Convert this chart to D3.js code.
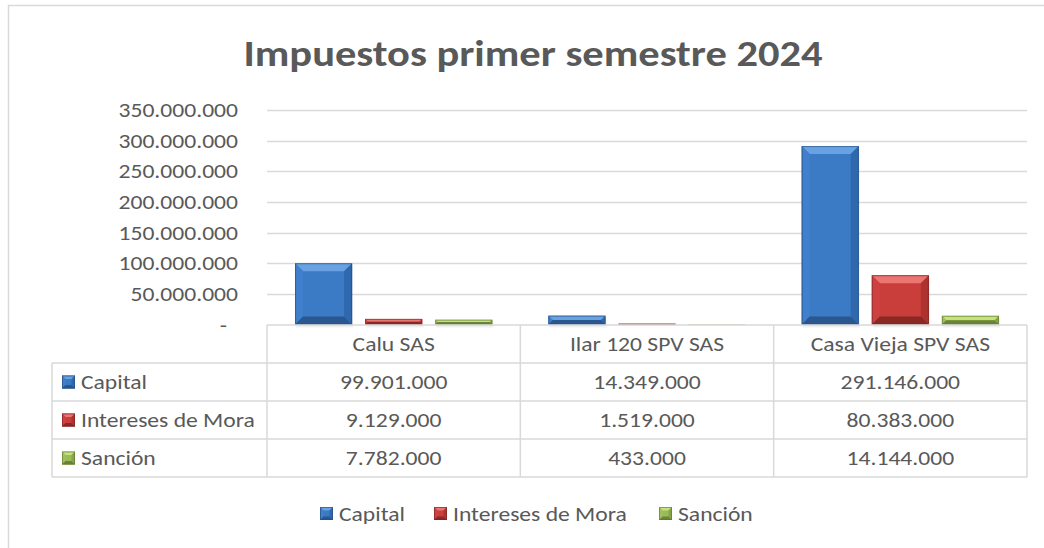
<!DOCTYPE html>
<html>
<head>
<meta charset="utf-8">
<script src="https://cdn.jsdelivr.net/npm/d3@7"></script>
<style>
  body { margin: 0; background: #fff; }
  svg text { font-family: Calibri, Carlito, Lato, sans-serif; fill: #595959; }
</style>
</head>
<body>
<script>
// data
const categories = ["Calu SAS", "Ilar 120 SPV SAS", "Casa Vieja SPV SAS"];
const seriesNames = ["Capital", "Intereses de Mora", "Sanción"];
const capital = [99901000, 14349000, 291146000];
const intereses = [9129000, 1519000, 80383000];
const sancion = [7782000, 433000, 14144000];
const yTicks = [0, 50000000, 100000000, 150000000, 200000000, 250000000, 300000000, 350000000];

const seriesValues = [capital, intereses, sancion];

// colours for the bevel look
const palette = [
  { main: "#3b7ac5", light: "#68a2e2", side: "#3f7fcb", dark: "#3068ad", bottom: "#2a5790", edge: "#24497a" },
  { main: "#c93d3a", light: "#ec7471", side: "#cd4240", dark: "#ad3331", bottom: "#8a2826", edge: "#7a2220" },
  { main: "#9bbb59", light: "#c6e27f", side: "#9fc05d", dark: "#86a44a", bottom: "#6a8536", edge: "#5c752e" }
];

const W = 1044, H = 548;
const plot = { left: 267, right: 1027, top: 110, bottom: 324.5 };
const SX = 1.18; // the original text is a bit wider than Lato

const locale = d3.formatLocale({ decimal: ",", thousands: ".", grouping: [3], currency: ["$", ""] });
const fmt = locale.format(",.0f");

const svg = d3.select("body").append("svg")
  .attr("width", W)
  .attr("height", H);

// text helper, stretched a little horizontally
function label(g, x, y, str, size, anchor, weight) {
  return g.append("text")
    .attr("transform", "translate(" + x + "," + y + ") scale(" + SX + ",1)")
    .attr("dy", "0.35em")
    .attr("text-anchor", anchor || "start")
    .style("font-size", size + "px")
    .style("font-weight", weight || "300")
    .text(str);
}

// chart frame (right and bottom edges fall outside the picture)
svg.append("rect")
  .attr("x", 8.5).attr("y", 5.5)
  .attr("width", W + 20).attr("height", H + 20)
  .attr("fill", "none")
  .attr("stroke", "#d9d9d9")
  .attr("stroke-width", 1.5);

// title
label(svg, 533, 53, "Impuestos primer semestre 2024", 36, "middle", "bold");

// scales
const x0 = d3.scaleBand().domain(categories).range([plot.left, plot.right]);
const x1 = d3.scaleBand().domain(seriesNames).range([0, x0.bandwidth()])
  .paddingInner(0.186).paddingOuter(0.4);
const y = d3.scaleLinear().domain([0, 350000000]).range([plot.bottom, plot.top]);

// gridlines
svg.append("g")
  .selectAll("line")
  .data(yTicks.filter(d => d > 0))
  .join("line")
  .attr("x1", plot.left).attr("x2", plot.right)
  .attr("y1", d => Math.round(y(d)) + 0.5).attr("y2", d => Math.round(y(d)) + 0.5)
  .attr("stroke", "#d9d9d9")
  .attr("stroke-width", 1.5);

// y axis labels
const yAxis = svg.append("g");
yTicks.forEach(d => {
  label(yAxis, d === 0 ? 227 : 238, y(d), d === 0 ? "-" : fmt(d), 20, "end");
});

// bevelled box, like the excel shape effect
function bevel(g, x, yy, w, h, c, size) {
  const b = Math.max(0, Math.min(size, h / 2, w / 2));
  g.append("rect").attr("x", x).attr("y", yy).attr("width", w).attr("height", h).attr("fill", c.main);
  const poly = (pts, fill) => g.append("polygon").attr("points", pts.map(p => p.join(",")).join(" ")).attr("fill", fill);
  poly([[x, yy], [x + w, yy], [x + w - b, yy + b], [x + b, yy + b]], c.light);
  poly([[x, yy], [x + b, yy + b], [x + b, yy + h - b], [x, yy + h]], c.side);
  poly([[x + w, yy], [x + w, yy + h], [x + w - b, yy + h - b], [x + w - b, yy + b]], c.dark);
  poly([[x, yy + h], [x + b, yy + h - b], [x + w - b, yy + h - b], [x + w, yy + h]], c.bottom);
  g.append("rect").attr("x", x + 0.5).attr("y", yy + 0.5).attr("width", Math.max(0, w - 1)).attr("height", Math.max(0, h - 1))
    .attr("fill", "none").attr("stroke", c.edge).attr("stroke-width", 1).attr("stroke-opacity", 0.6);
}

// bars
const bars = svg.append("g");
categories.forEach((cat, ci) => {
  seriesNames.forEach((s, si) => {
    const v = seriesValues[si][ci];
    const bx = x0(cat) + x1(s);
    const by = y(v);
    const bh = y(0) - y(v);
    const g = bars.append("g");
    if (bh > 2) {
      // soft shadow
      g.append("rect")
        .attr("x", bx + 1).attr("y", by + 2)
        .attr("width", x1.bandwidth()).attr("height", bh + 1)
        .attr("fill", "#000").attr("opacity", 0.06);
    }
    bevel(g, bx, by, x1.bandwidth(), bh, palette[si], 8);
  });
});

// data table
const rowKeys = ["header"].concat(seriesNames);
const rows = d3.scaleBand().domain(rowKeys).range([325, 477]);
const tableLeft = 52;
const tbl = svg.append("g");
const lineCol = "#d9d9d9";

// horizontal lines
rowKeys.concat(["end"]).forEach((k, i) => {
  const yy = i < rowKeys.length ? rows(k) : rows.range()[1];
  tbl.append("line")
    .attr("x1", i === 0 ? plot.left : tableLeft).attr("x2", plot.right)
    .attr("y1", yy).attr("y2", yy)
    .attr("stroke", lineCol).attr("stroke-width", 1.5);
});
// vertical lines
tbl.append("line")
  .attr("x1", tableLeft).attr("x2", tableLeft)
  .attr("y1", rows(seriesNames[0])).attr("y2", rows.range()[1])
  .attr("stroke", lineCol).attr("stroke-width", 1.5);
categories.concat(["end"]).forEach((c, i) => {
  const xx = i < categories.length ? x0(c) : plot.right;
  tbl.append("line")
    .attr("x1", xx).attr("x2", xx)
    .attr("y1", rows("header")).attr("y2", rows.range()[1])
    .attr("stroke", lineCol).attr("stroke-width", 1.5);
});

// header text
categories.forEach(c => {
  label(tbl, x0(c) + x0.bandwidth() / 2, rows("header") + rows.bandwidth() / 2, c, 20, "middle");
});

// rows
seriesNames.forEach((s, si) => {
  const cy = rows(s) + rows.bandwidth() / 2;
  bevel(tbl.append("g"), 62, cy - 6.5, 13, 13, palette[si], 3.5);
  label(tbl, 81, cy, s, 20);
  categories.forEach((c, ci) => {
    label(tbl, x0(c) + x0.bandwidth() / 2, cy, fmt(seriesValues[si][ci]), 20, "middle");
  });
});

// legend
const legendX = [320, 434, 659];
const legend = svg.append("g");
seriesNames.forEach((s, si) => {
  bevel(legend.append("g"), legendX[si], 507, 13, 13, palette[si], 3.5);
  label(legend, legendX[si] + 19, 513.5, s, 20);
});
</script>
</body>
</html>
